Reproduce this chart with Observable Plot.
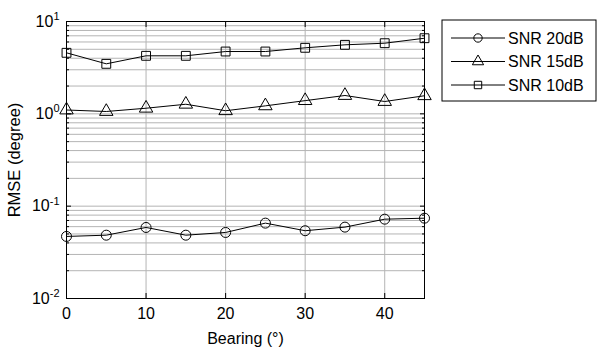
<!DOCTYPE html>
<html>
<head>
<meta charset="utf-8">
<script src="https://cdn.jsdelivr.net/npm/d3@7"></script>
<script src="https://cdn.jsdelivr.net/npm/@observablehq/plot@0.6"></script>
<style>
  html, body { margin: 0; padding: 0; background: white; }
  #chart { width: 598px; height: 347px; }
</style>
</head>
<body>
<div id="chart"></div>
<script>
// ---- data ----
const bearing = [0, 5, 10, 15, 20, 25, 30, 35, 40, 45];
const snr20 = [0.0470, 0.0485, 0.0588, 0.0485, 0.0519, 0.0655, 0.0542, 0.0593, 0.0723, 0.0741];
const snr15 = [1.10, 1.06, 1.15, 1.27, 1.08, 1.22, 1.39, 1.58, 1.36, 1.57];
const snr10 = [4.58, 3.48, 4.25, 4.25, 4.73, 4.73, 5.19, 5.59, 5.82, 6.59];
const seriesNames = ["SNR 20dB", "SNR 15dB", "SNR 10dB"];
const seriesSymbols = ["circle", "triangle", "square"];
const xTicks = [0, 10, 20, 30, 40];
const yMajor = [0.01, 0.1, 1, 10];
const yMinor = [0.02, 0.03, 0.04, 0.05, 0.06, 0.07, 0.08, 0.09,
                0.2, 0.3, 0.4, 0.5, 0.6, 0.7, 0.8, 0.9,
                2, 3, 4, 5, 6, 7, 8, 9];

const seriesValues = [snr20, snr15, snr10];
const rows = [];
seriesValues.forEach((vals, i) => {
  vals.forEach((v, j) => rows.push({series: seriesNames[i], symbol: seriesSymbols[i], x: bearing[j], y: v}));
});

const font = "'Liberation Sans', Arial, Helvetica, sans-serif";
const gridColor = "#b4b4b4";

const chart = Plot.plot({
  width: 598,
  height: 347,
  marginLeft: 66,
  marginRight: 174,
  marginTop: 21,
  marginBottom: 49,
  style: {fontFamily: font, fontSize: "16px", background: "white", color: "black", overflow: "visible"},
  x: {domain: [0, 45]},
  y: {type: "log", domain: [0.01, 10]},
  symbol: {domain: seriesSymbols, range: seriesSymbols},
  marks: [
    Plot.gridY(yMinor.concat(yMajor), {stroke: gridColor, strokeOpacity: 1}),
    Plot.gridX(xTicks, {stroke: gridColor, strokeOpacity: 1}),
    // labels
    Plot.axisX(xTicks, {anchor: "bottom", tickSize: 0, tickPadding: 9, fontSize: 16,
      label: "Bearing (°)", labelAnchor: "center", labelArrow: "none", labelOffset: 45}),
    Plot.axisY(yMajor, {anchor: "left", tickSize: 0, tickPadding: 7, fontSize: 16,
      tickFormat: d => String(Math.round(Math.log10(d))),
      label: null}),
    Plot.axisY(yMajor, {anchor: "left", tickSize: 0, tickFormat: () => "",
      label: "RMSE (degree)", labelAnchor: "center", labelArrow: "none", labelOffset: 58, fontSize: 16.5}),
    // inward ticks
    Plot.axisX(xTicks, {anchor: "bottom", tickSize: -5, tickFormat: () => "", label: null}),
    Plot.axisX(xTicks, {anchor: "top", tickSize: -5, tickFormat: () => "", label: null}),
    Plot.axisY(yMajor, {anchor: "left", tickSize: -5, tickFormat: () => "", label: null}),
    Plot.axisY(yMajor, {anchor: "right", tickSize: -5, tickFormat: () => "", label: null}),
    Plot.axisY(yMinor, {anchor: "left", tickSize: -3, tickFormat: () => "", label: null}),
    Plot.axisY(yMinor, {anchor: "right", tickSize: -3, tickFormat: () => "", label: null}),
    Plot.frame({stroke: "black", strokeWidth: 1}),
    Plot.line(rows, {x: "x", y: "y", z: "series", stroke: "black", strokeWidth: 1}),
    Plot.dot(rows, {x: "x", y: "y", symbol: "symbol", r: 5, stroke: "black", fill: "none", strokeWidth: 1})
  ]
});

document.getElementById("chart").appendChild(chart);

// superscript exponents on y tick labels
const svg = d3.select(chart);
svg.selectAll('g[aria-label="y-axis tick label"] text').each(function() {
  const t = d3.select(this);
  const e = t.text();
  if (e === "") return;
  t.text("");
  t.append("tspan").text("10");
  t.append("tspan").attr("dy", "-0.6em").attr("font-size", "11px").text(e);
});

// legend (box drawn to the right of the plot area)
const lg = svg.append("g").attr("font-family", font).attr("font-size", "16px").attr("text-anchor", "start");
const lx = 442, ly = 20, lw = 154, lh = 81;
lg.append("rect").attr("x", lx).attr("y", ly).attr("width", lw).attr("height", lh)
  .attr("fill", "white").attr("stroke", "black").attr("stroke-width", 1);
const symMap = {circle: d3.symbolCircle, triangle: d3.symbolTriangle, square: d3.symbolSquare};
seriesNames.forEach((name, i) => {
  const cy = ly + 18 + i * 23.5;
  lg.append("line").attr("x1", lx + 9).attr("x2", lx + 63).attr("y1", cy).attr("y2", cy)
    .attr("stroke", "black").attr("stroke-width", 1);
  lg.append("path").attr("transform", `translate(${lx + 36},${cy})`)
    .attr("d", d3.symbol(symMap[seriesSymbols[i]], 55)())
    .attr("fill", "none").attr("stroke", "black");
  lg.append("text").attr("x", lx + 66).attr("y", cy).attr("dy", "0.35em").attr("text-anchor", "start").text(name);
});
</script>
</body>
</html>
